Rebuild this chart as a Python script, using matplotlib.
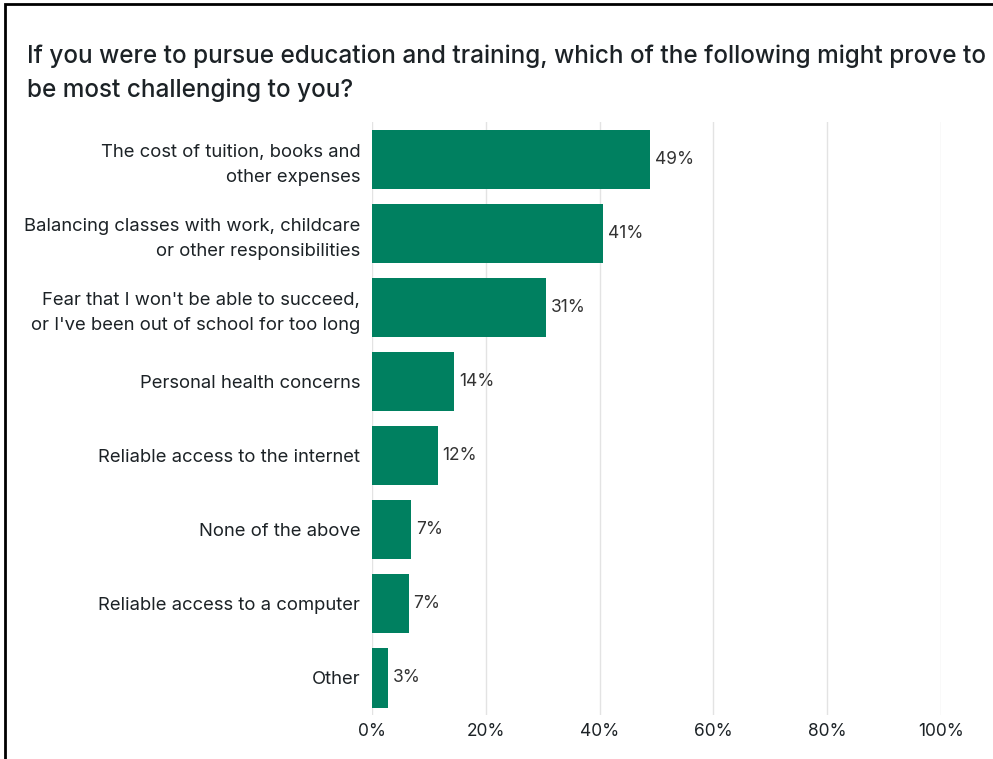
import matplotlib.pyplot as plt
from matplotlib.patches import Rectangle

# survey answers, top to bottom
categories = [
    "The cost of tuition, books and\nother expenses",
    "Balancing classes with work, childcare\nor other responsibilities",
    "Fear that I won't be able to succeed,\nor I've been out of school for too long",
    "Personal health concerns",
    "Reliable access to the internet",
    "None of the above",
    "Reliable access to a computer",
    "Other",
]
values = [48.9, 40.6, 30.6, 14.5, 11.6, 6.9, 6.5, 2.8]
value_labels = ["49%", "41%", "31%", "14%", "12%", "7%", "7%", "3%"]
xticks = [0, 20, 40, 60, 80, 100]
xtick_labels = ["0%", "20%", "40%", "60%", "80%", "100%"]

title = ("If you were to pursue education and training, which of the following might prove to\n"
         "be most challenging to you?")

plt.rcParams['font.family'] = ['Inter', 'DejaVu Sans']
text_color = "#1c2226"
bar_color = "#008060"

fig = plt.figure(figsize=(9.93, 7.59), dpi=100)
ax = fig.add_axes([0.3746, 0.058, 0.573, 0.781])

ypos = list(range(len(categories)))
ax.barh(ypos, values, height=0.8, color=bar_color, zorder=3)
for y, v, lab in zip(ypos, values, value_labels):
    ax.text(v + 0.8, y, lab, va="center", ha="left", fontsize=12.5, color="#333333")

ax.set_xlim(0, 100)
ax.set_ylim(len(categories) - 0.5, -0.5)
ax.set_xticks(xticks)
ax.set_xticklabels(xtick_labels, fontsize=12.5, color=text_color)
ax.set_yticks(ypos)
ax.set_yticklabels(categories, fontsize=13.3, color=text_color, linespacing=1.6)
ax.tick_params(axis="x", length=0, pad=6)
ax.tick_params(axis="y", length=0, pad=8.5)
ax.xaxis.grid(True, color="#e3e3e3", linewidth=1, zorder=0)
for s in ax.spines.values():
    s.set_visible(False)

fig.text(27 / 993, 1 - 45 / 759, title, ha="left", va="top", fontsize=17.5,
         fontweight="medium", color=text_color, linespacing=1.55)

# frame around the screenshot
fig.patches.append(Rectangle((5 / 993, -0.1), 1.2, 1 - 4 / 759 + 0.1,
                             transform=fig.transFigure, fill=False,
                             edgecolor="black", linewidth=2))

fig.savefig("out.png", dpi=100)
